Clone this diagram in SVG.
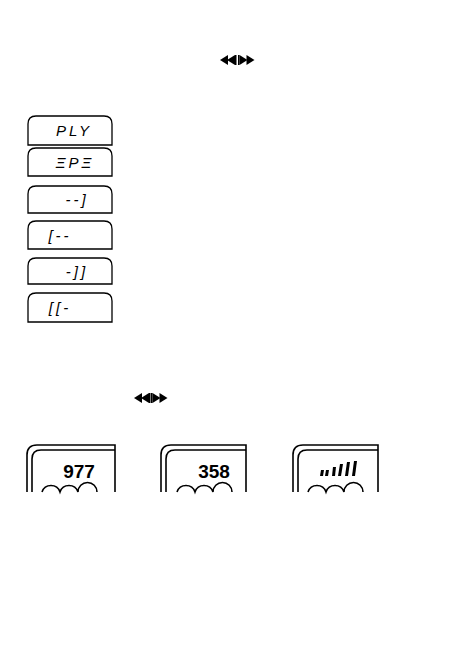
<svg xmlns="http://www.w3.org/2000/svg" width="454" height="658" viewBox="0 0 454 658">
<defs>
<style>
.box{fill:none;stroke:#000;stroke-width:1.3}
.lcd{font-family:"Liberation Sans",Arial,sans-serif;font-size:15px;fill:#000;letter-spacing:3px;font-style:italic}
.big{font-family:"Liberation Sans",Arial,sans-serif;font-weight:bold;font-size:19px;fill:#000}
.disp{fill:none;stroke:#000;stroke-width:1.6}
</style>
<g id="rew">
<polygon points="0,5 8,0 8,10"/>
<polygon points="7,5 15,0 15,10"/>
<rect x="15" y="0" width="1.5" height="10"/>
</g>
<g id="ff">
<rect x="0" y="0" width="1.5" height="10"/>
<polygon points="1.5,0 9.5,5 1.5,10"/>
<polygon points="8.5,0 16.5,5 8.5,10"/>
</g>
</defs>
<rect width="454" height="658" fill="#fff"/>

<g id="icon-top">
<use href="#rew" x="220" y="55"/>
<use href="#ff" x="238" y="55"/>
</g>

<g id="box1"><path class="box" d="M28,145 V124 Q28,116 36,116 H104 Q112,116 112,124 V145 Z"/><text class="lcd" x="74" y="136" text-anchor="middle">PLY</text></g>
<g id="box2"><path class="box" d="M28,176 V156 Q28,148 36,148 H104 Q112,148 112,156 V176 Z"/><text class="lcd" x="75" y="168" text-anchor="middle">ΞPΞ</text></g>
<g id="box3"><path class="box" d="M28,213 V194 Q28,186 36,186 H104 Q112,186 112,194 V213 Z"/><text class="lcd" x="77" y="205" text-anchor="middle">--]</text></g>
<g id="box4"><path class="box" d="M28,249 V229 Q28,221 36,221 H104 Q112,221 112,229 V249 Z"/><text class="lcd" x="60" y="241" text-anchor="middle">[--</text></g>
<g id="box5"><path class="box" d="M28,284 V266 Q28,258 36,258 H104 Q112,258 112,266 V284 Z"/><text class="lcd" x="77" y="277" text-anchor="middle">-]]</text></g>
<g id="box6"><path class="box" d="M28,322 V301 Q28,293 36,293 H104 Q112,293 112,301 V322 Z"/><text class="lcd" x="60" y="313" text-anchor="middle">[[-</text></g>

<g id="icon-bottom">
<use href="#rew" x="134" y="393"/>
<use href="#ff" x="151" y="393"/>
</g>

<g id="disp1">
<path class="disp" d="M27,492 V455 Q27,445 37,445 H115 V492"/>
<path class="disp" d="M32,492 V459 Q32,450 41,450 H115"/>
<path class="disp" d="M42,492 A9.5,9.5 0 0 1 60,492 A9.5,9.5 0 0 1 78,492 A9.5,9.5 0 0 1 97,492"/>
<text class="big" x="79" y="478" text-anchor="middle">977</text>
</g>
<g id="disp2">
<path class="disp" d="M161,492 V455 Q161,445 171,445 H246 V492"/>
<path class="disp" d="M166,492 V459 Q166,450 175,450 H246"/>
<path class="disp" d="M177,492 A9.5,9.5 0 0 1 195,492 A9.5,9.5 0 0 1 213,492 A9.5,9.5 0 0 1 232,492"/>
<text class="big" x="214" y="478" text-anchor="middle">358</text>
</g>
<g id="disp3">
<path class="disp" d="M293,492 V455 Q293,445 303,445 H378 V492"/>
<path class="disp" d="M298,492 V459 Q298,450 307,450 H378"/>
<path class="disp" d="M308,492 A9.5,9.5 0 0 1 326,492 A9.5,9.5 0 0 1 344,492 A9.5,9.5 0 0 1 363,492"/>
<g fill="#000">
<polygon points="321,470 324,470 323,476 320,476"/>
<polygon points="326,470 329,470 328,476 325,476"/>
<polygon points="333,467 336,467 335,476 332,476"/>
<polygon points="340,464 343,464 341,476 338,476"/>
<polygon points="347,462 350,462 348,476 345,476"/>
<polygon points="354,461 357,461 355,476 352,476"/>
</g>
</g>
</svg>
